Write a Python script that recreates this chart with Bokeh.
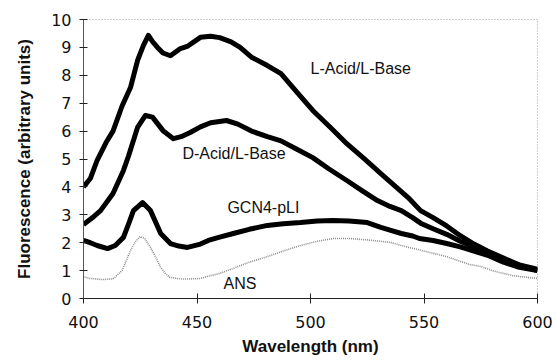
from bokeh.plotting import figure
from bokeh.models import Label, FixedTicker, Range1d
from bokeh.embed import file_html
from bokeh.resources import INLINE

# ---- data ----
l_acid_x = [400, 403, 406, 410, 413, 417, 420.7, 423.8, 426.4, 428.6, 430.5, 432.6, 435, 438.3,
            442.7, 446, 451.5, 456, 460, 465, 469, 474, 481, 487, 494, 501, 508.8, 516, 523.5,
            531, 537, 543, 548.5, 554, 560, 566, 572, 578, 585, 592, 600]
l_acid_y = [4.0, 4.3, 4.95, 5.6, 6.0, 6.9, 7.56, 8.53, 9.07, 9.43, 9.2, 9.0, 8.8, 8.7,
            8.96, 9.05, 9.36, 9.4, 9.35, 9.2, 9.0, 8.65, 8.35, 8.06, 7.4, 6.74, 6.13, 5.55, 5.02,
            4.48, 4.05, 3.62, 3.15, 2.9, 2.6, 2.25, 1.95, 1.7, 1.45, 1.2, 1.05]

d_acid_x = [400, 404, 407.5, 413, 417.6, 419.8, 423.8, 427.3, 430.4, 435.2, 439.6, 443, 447,
            451.5, 456, 463, 468, 474, 481, 487, 494, 501, 508, 516, 523, 529.5, 535, 540,
            545, 548.5, 554, 560, 566, 572, 578, 585, 592, 600]
d_acid_y = [2.65, 2.9, 3.15, 3.76, 4.59, 5.1, 6.13, 6.56, 6.5, 6.0, 5.73, 5.8, 5.95,
            6.15, 6.3, 6.38, 6.25, 6.0, 5.8, 5.65, 5.35, 5.05, 4.65, 4.23, 3.85, 3.51, 3.3, 3.15,
            2.9, 2.7, 2.5, 2.3, 2.05, 1.85, 1.65, 1.4, 1.2, 1.0]

gcn4_x = [400, 403, 406, 410.6, 414, 417.6, 420, 422, 426, 429.5, 432, 434, 438.3, 442, 445.8,
          451.5, 455, 460, 466, 473, 481, 488, 495.6, 503, 510, 517, 525, 531, 535, 540, 545,
          548, 554, 560, 566, 572, 578, 585, 592, 600]
gcn4_y = [2.08, 2.0, 1.9, 1.79, 1.9, 2.19, 2.7, 3.15, 3.44, 3.15, 2.7, 2.33, 1.97, 1.88, 1.83,
          1.95, 2.08, 2.2, 2.33, 2.48, 2.62, 2.68, 2.72, 2.78, 2.8, 2.78, 2.72, 2.55, 2.45, 2.33, 2.24,
          2.15, 2.08, 1.97, 1.85, 1.7, 1.55, 1.3, 1.12, 1.0]

ans_x = [400, 403, 408, 413, 417, 420.7, 423, 425, 427, 429.5, 432, 434, 436, 438, 443, 447,
         451.5, 455, 460, 466, 473, 481, 488, 495.6, 503, 510, 517, 525, 531, 536, 540, 545,
         550, 560, 570, 575, 580, 589, 600]
ans_y = [0.78, 0.72, 0.68, 0.7, 1.0, 1.72, 2.05, 2.22, 2.15, 1.83, 1.45, 1.11, 0.9, 0.76, 0.7, 0.7,
         0.72, 0.8, 0.9, 1.08, 1.3, 1.5, 1.7, 1.9, 2.05, 2.15, 2.15, 2.1, 2.05, 2.0, 1.9, 1.8,
         1.7, 1.5, 1.22, 1.15, 1.0, 0.82, 0.72]

x_ticks = [400, 450, 500, 550, 600]
y_ticks = list(range(0, 11))

series_labels = ["L-Acid/L-Base", "D-Acid/L-Base", "GCN4-pLI", "ANS"]
label_pos_x = [500, 443.6, 463.4, 461.7]
label_pos_y = [8.24, 5.2, 3.26, 0.54]

x_title = "Wavelength (nm)"
y_title = "Fluorescence (arbitrary units)"

# ---- figure ----
p = figure(width=557, height=362, output_backend="svg", toolbar_location=None,
           x_range=Range1d(400, 600), y_range=Range1d(0, 10),
           min_border_left=83, min_border_right=20, min_border_top=19, min_border_bottom=64)
p.background_fill_color = "white"
p.border_fill_color = "white"
p.xgrid.visible = False
p.ygrid.visible = False
p.outline_line_color = "#9a9a9a"
p.outline_line_dash = "1 2"
p.outline_line_width = 1

p.xaxis.ticker = FixedTicker(ticks=x_ticks)
p.yaxis.ticker = FixedTicker(ticks=y_ticks)
for ax in (p.xaxis, p.yaxis):
    ax.minor_tick_line_color = None
    ax.major_label_text_font = "DejaVu Sans"
    ax.major_label_text_font_size = "16px"
    ax.major_label_text_color = "#111111"
    ax.major_tick_line_color = "#222222"
    ax.axis_label_text_font = "Liberation Sans"
    ax.axis_label_text_font_size = "17px"
    ax.axis_label_text_font_style = "bold"
    ax.axis_label_text_color = "#111111"
p.xaxis.axis_label = x_title
p.yaxis.axis_label = y_title
p.xaxis.axis_label_standoff = 6
p.yaxis.axis_label_standoff = 14
p.xaxis.axis_line_color = "#222222"
p.yaxis.axis_line_color = "#555555"
p.xaxis.major_tick_in = 5
p.xaxis.major_tick_out = 5
p.yaxis.major_tick_in = 4
p.yaxis.major_tick_out = 4
p.xaxis.major_label_standoff = 12
p.yaxis.major_label_standoff = 8

p.line(ans_x, ans_y, line_color="#8c8c8c", line_width=1.6, line_dash="1 1")
p.line(gcn4_x, gcn4_y, line_color="black", line_width=5, line_join="round")
p.line(d_acid_x, d_acid_y, line_color="black", line_width=5, line_join="round")
p.line(l_acid_x, l_acid_y, line_color="black", line_width=5, line_join="round")

for t, lx, ly in zip(series_labels, label_pos_x, label_pos_y):
    p.add_layout(Label(x=lx, y=ly, text=t, text_font="Liberation Sans", text_font_size="16px",
                       text_baseline="middle", text_align="left", text_color="#111111"))

open("out.html", "w").write(file_html(p, INLINE))
